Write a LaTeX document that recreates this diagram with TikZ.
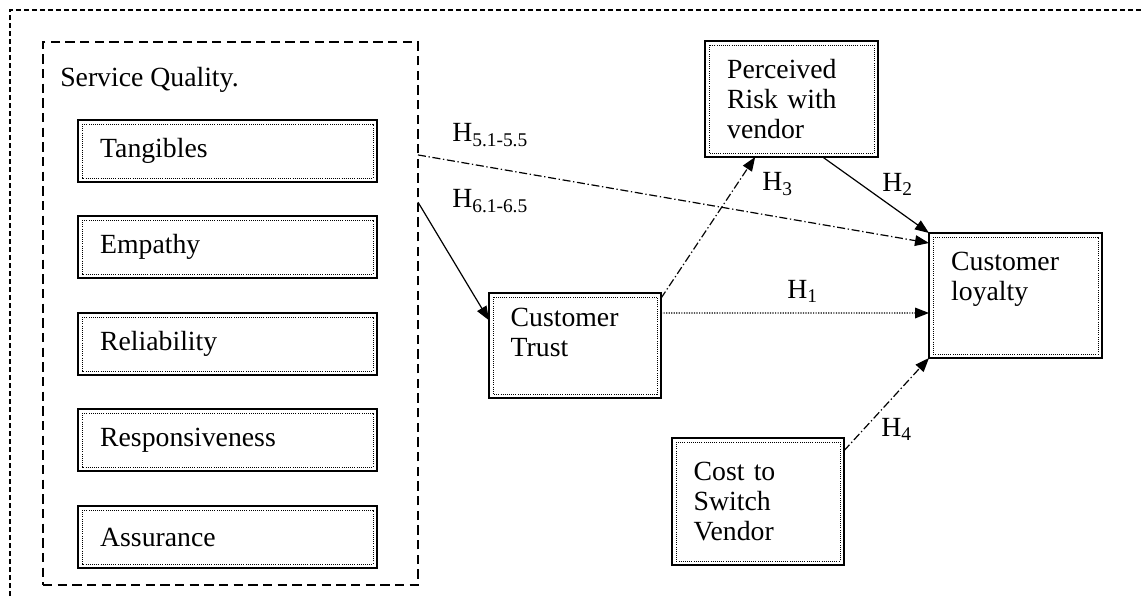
\documentclass[tikz,border=0pt]{standalone}
\usepackage{fontspec}
\setmainfont{Liberation Serif}
\usetikzlibrary{arrows.meta,calc}
\begin{document}
\begin{tikzpicture}[x=0.75pt,y=-0.75pt,
  txt/.style={font=\fontsize{20.8}{22.5}\selectfont},
  box/.style={txt, draw, line width=1.3pt, inner sep=0pt, outer sep=0pt, align=left},
  smallbox/.style={box, minimum width=224.25pt, minimum height=46.5pt, text width=191pt},
  bigbox/.style={box, text width=96.5pt},
  innerline/.style={draw, line width=0.6pt, densely dotted},
  frameline/.style={line width=0.8pt, dash pattern=on 4pt off 2pt},
  group/.style={draw, line width=0.9pt, dash pattern=on 7pt off 4pt, inner sep=0pt, outer sep=0pt},
  conn/.style={line width=0.9pt, -{Triangle[length=10.5pt,width=8pt]}},
  lbl/.style={txt, anchor=west, inner sep=0pt}
]
\useasboundingbox (0,0) rectangle (1141,596);
% outer frame (continues beyond the picture)
\draw[frameline] (10,596) -- (10,10) -- (1141,10);

% Service Quality group
\node[group, minimum width=281.25pt, minimum height=407.25pt] (sq) at (230.5,313.5) {};
\node[txt, anchor=west, inner sep=0pt] (sqt) at (60,80) {Service Quality.};

\node[smallbox] (tang)  at (227.5,151) {Tangibles};
\node[smallbox] (emp)   at (227.5,247) {Empathy};
\node[smallbox] (rel)   at (227.5,344) {Reliability};
\node[smallbox] (resp)  at (227.5,440) {Responsiveness};
\node[smallbox] (assur) at (227.5,537) {Assurance};

\node[bigbox, minimum width=129.75pt, minimum height=87pt] (risk) at (791.5,99) {Perceived\\Risk with\\vendor};
\node[bigbox, minimum width=129.75pt, minimum height=93.75pt] (loyal) at (1015.5,295.5) {Customer\\loyalty\\\strut};
\node[bigbox, minimum width=129pt, minimum height=78.75pt] (trust) at (575,345.5) {Customer\\Trust\\[-10pt]\strut};
\node[bigbox, minimum width=129pt, minimum height=95.25pt] (cost) at (758,501.5) {Cost to\\Switch\\Vendor};

\foreach \n in {tang,emp,rel,resp,assur,risk,loyal,trust,cost}
  \draw[innerline] ([shift={(4,4)}]\n.north west) rectangle ([shift={(-4,-4)}]\n.south east);

% connectors
\draw[conn, dash pattern=on 6pt off 2pt on 1pt off 2pt]
  ($(sq.north east)!0.208!(sq.south east)$) -- ($(loyal.north west)!0.08!(loyal.south west)$);
\draw[conn]
  ($(sq.north east)!0.295!(sq.south east)$) -- ($(trust.north west)!0.26!(trust.south west)$);
\draw[conn, dash pattern=on 6pt off 2pt on 1pt off 2pt]
  ($(trust.north east)!0.05!(trust.south east)$) -- ($(risk.south west)!0.29!(risk.south east)$);
\draw[conn]
  ($(risk.south west)!0.68!(risk.south east)$) -- (loyal.north west);
\draw[conn, densely dotted]
  ($(trust.north east)!0.19!(trust.south east)$) -- ($(loyal.north west)!0.64!(loyal.south west)$);
\draw[conn, dash pattern=on 6pt off 2pt on 1pt off 2pt]
  ($(cost.north east)!0.1!(cost.south east)$) -- (loyal.south west);

% labels
\node[lbl] (l5) at (452,135) {H\textsubscript{5.1-5.5}};
\node[lbl] (l6) at (452,201) {H\textsubscript{6.1-6.5}};
\node[lbl] (l3) at (762,184) {H\textsubscript{3}};
\node[lbl] (l2) at (882,184) {H\textsubscript{2}};
\node[lbl] (l1) at (787,291) {H\textsubscript{1}};
\node[lbl] (l4) at (881,429) {H\textsubscript{4}};
\end{tikzpicture}
\end{document}
